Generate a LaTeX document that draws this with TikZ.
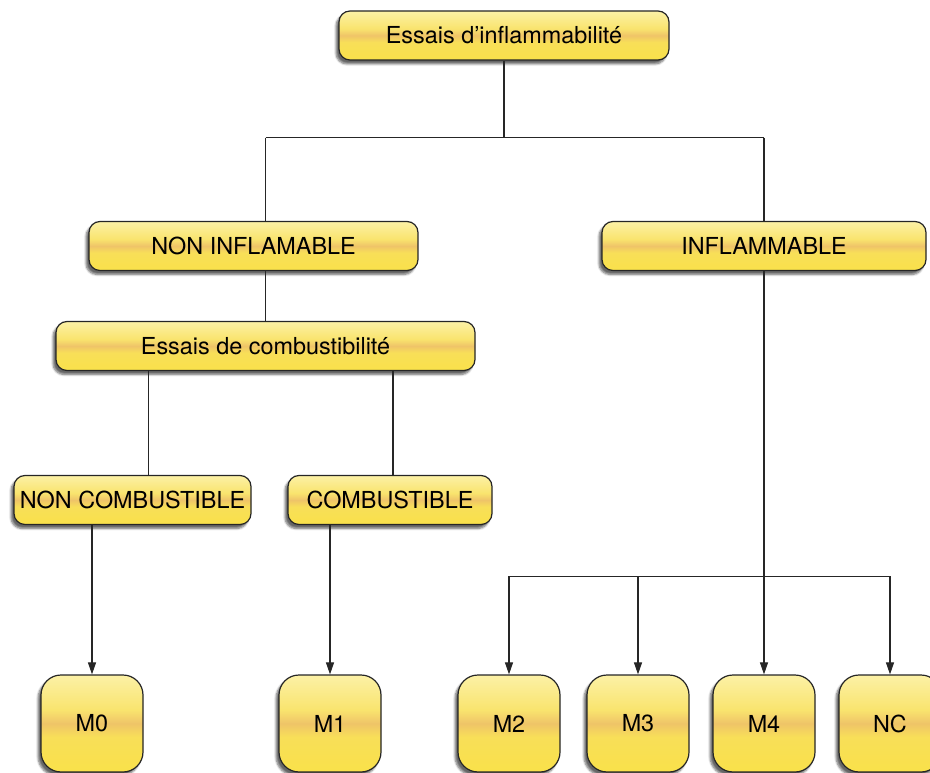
\documentclass[tikz,border=0pt]{standalone}
\usepackage{fontspec}
\setmainfont{TeX Gyre Heros}
\usepackage{xcolor}
\usetikzlibrary{arrows.meta,shadows.blur}
\definecolor{ytop}{HTML}{FCF1A6}
\definecolor{yup}{HTML}{F9E46E}
\definecolor{yband}{HTML}{EFC468}
\definecolor{ylow}{HTML}{F8DF58}
\definecolor{ybot}{HTML}{F9E14A}
\pgfdeclareverticalshading{boxfill}{100bp}{color(0bp)=(ybot); color(25bp)=(ybot); color(43bp)=(ylow); color(50bp)=(yband); color(57bp)=(yup); color(75bp)=(ytop); color(100bp)=(ytop)}
\tikzset{
  box/.style={draw=black!85, line width=1.2pt, rounded corners=11pt, shading=boxfill, inner sep=0pt,
    minimum height=49pt, font=\fontsize{23.4}{27}\selectfont,
    blur shadow={shadow xshift=-3pt, shadow yshift=-4pt, shadow blur steps=6, shadow opacity=60}},
  leaf/.style={box, rounded corners=20pt, minimum width=102pt, minimum height=97pt},
  link/.style={line width=1.1pt, black!85},
  arr/.style={link, -{Triangle[length=12pt, width=8pt]}}}

\begin{document}
\begin{tikzpicture}[x=1pt, y=-1pt]
  \useasboundingbox (0,0) rectangle (930,773);
  % boxes
  \node[box, minimum width=330pt] (essinf) at (504,35.5) {Essais d’inflammabilité};
  \node[box, minimum width=329pt] (ninfl) at (253.5,246) {NON INFLAMABLE};
  \node[box, minimum width=324pt] (infl) at (764,246) {INFLAMMABLE};
  \node[box, minimum width=419pt] (ecomb) at (265.5,346) {Essais de combustibilité};
  \node[box, minimum width=237pt] (ncomb) at (132.5,500) {NON COMBUSTIBLE};
  \node[box, minimum width=204pt] (comb) at (390,500) {COMBUSTIBLE};
  \node[leaf] (m0) at (92,723.5) {M0};
  \node[leaf] (m1) at (330,723.5) {M1};
  \node[leaf] (m2) at (509,723.5) {M2};
  \node[leaf] (m3) at (638,723.5) {M3};
  \node[leaf] (m4) at (764,723.5) {M4};
  \node[leaf] (nc) at (890,723.5) {NC};
  % tree lines
  \draw[link] (essinf.south) -- ++(0,77) coordinate (fork);
  \draw[link] (fork -| ecomb.north) -- (fork -| infl.north);
  \draw[link] (fork -| ecomb.north) -- (ninfl.north -| ecomb.north);
  \draw[link] (fork -| infl.north) -- (infl.north);
  \draw[link] (ninfl.south -| ecomb.north) -- (ecomb.north);
  \coordinate (ncin) at ([xshift=16pt]ncomb.north);
  \coordinate (cin) at ([xshift=3pt]comb.north);
  \draw[link] (ncin |- ecomb.south) -- (ncin);
  \draw[link] (cin |- ecomb.south) -- (cin);
  \draw[arr] (m0.north |- ncomb.south) -- (m0.north);
  \draw[arr] (m1.north |- comb.south) -- (m1.north);
  \path (infl.south) -- ++(0,305) coordinate (hub);
  \draw[link] (hub -| m2.north) -- (hub -| nc.north);
  \draw[arr] (infl.south) -- (m4.north);
  \draw[arr] (hub -| m2.north) -- (m2.north);
  \draw[arr] (hub -| m3.north) -- (m3.north);
  \draw[arr] (hub -| nc.north) -- (nc.north);
\end{tikzpicture}
\end{document}
